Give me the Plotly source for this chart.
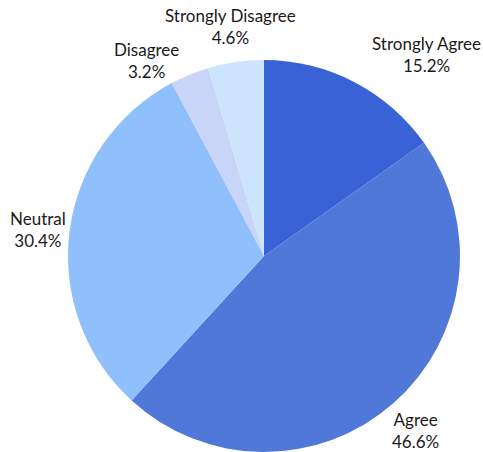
import math
import plotly.graph_objects as go

# Survey responses, share of respondents (%)
responses = ["Strongly Agree", "Agree", "Neutral", "Disagree", "Strongly Disagree"]
shares = [15.2, 46.6, 30.4, 3.2, 4.6]
slice_colors = ["#3862d6", "#5078d8", "#90c0fc", "#c8d4f8", "#cce4fc"]

# Label-centre offsets (px) from the outer midpoint of each slice
label_shift = [(72, -27), (22, 27), (-32, -2), (-43, -14), (-5, -36)]

W, H = 483, 452
ML, MR, MT, MB = 45, 0, 60, 0
plot_w, plot_h = W - ML - MR, H - MT - MB
cx, cy = ML + plot_w / 2, MT + plot_h / 2
radius = min(plot_w, plot_h) / 2

fig = go.Figure(
    go.Pie(
        labels=responses,
        values=shares,
        sort=False,
        direction="clockwise",
        rotation=0,
        marker=dict(colors=slice_colors, line=dict(width=0)),
        textinfo="none",
        hovertemplate="%{label}: %{percent:.1%}<extra></extra>",
        showlegend=False,
    )
)

# Outside labels placed from each slice's mid-angle
total = sum(shares)
cum = 0.0
annotations = []
for name, val, (dx, dy) in zip(responses, shares, label_shift):
    mid = (cum + val / 2) / total * 2 * math.pi
    cum += val
    ex = cx + radius * math.sin(mid)
    ey = cy - radius * math.cos(mid)
    px, py = ex + dx, ey + dy
    annotations.append(
        dict(
            x=(px - ML) / plot_w,
            y=(H - MB - py) / plot_h,
            xref="paper",
            yref="paper",
            text=f"{name}<br>{val / total * 100:.1f}%",
            showarrow=False,
            xanchor="center",
            yanchor="middle",
            align="center",
            font=dict(family="Lato", size=17, color="#1a1a1a"),
        )
    )

fig.update_layout(
    width=W,
    height=H,
    margin=dict(l=ML, r=MR, t=MT, b=MB),
    paper_bgcolor="white",
    plot_bgcolor="white",
    annotations=annotations,
)

fig.write_html("out.html")
